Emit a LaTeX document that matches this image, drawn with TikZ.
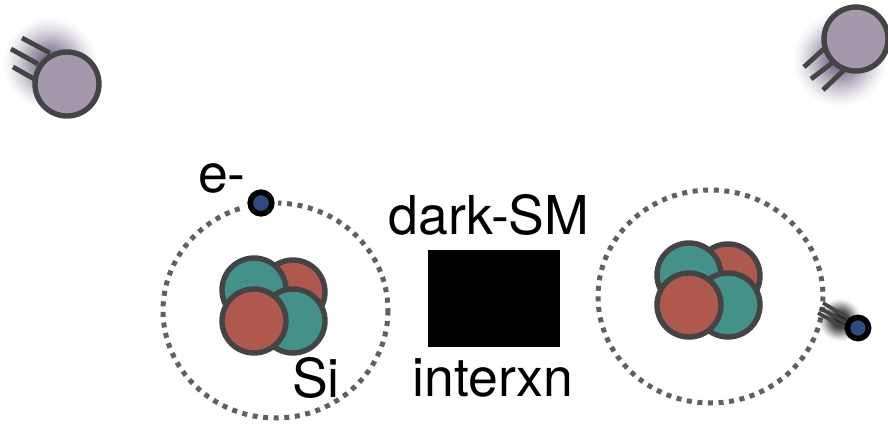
\documentclass[tikz,border=0pt]{standalone}
\usepackage{fontspec}
\setmainfont{TeX Gyre Heros}
\definecolor{ink}{HTML}{444444}
\definecolor{dotgrey}{HTML}{625F5C}
\definecolor{teal}{HTML}{44918A}
\definecolor{brick}{HTML}{AE584E}
\definecolor{lilac}{HTML}{A597AC}
\definecolor{halo}{HTML}{4A3A60}
\definecolor{eblue}{HTML}{2F4A7C}
\tikzset{
  ball/.style={draw=ink,line width=5.4pt},
  orbit/.style={draw=dotgrey,line width=5pt,dash pattern=on 5pt off 5.6pt},
  trail/.style={draw=ink,line width=4.8pt},
  electron/.style={draw=black,line width=5.6pt,fill=eblue},
  label/.style={inner sep=0pt,font=\fontsize{53.6}{54}\selectfont,text=black}
}
% soft halo: many faint stacked discs whose opacity tails off quadratically
\newcommand{\softhalo}[4]{%
  \foreach \k in {1,...,90}{
    \fill[#4,opacity=#3] (#1) circle ({#2*(1-sqrt(\k/90))+0.01});
  }%
}
\begin{document}
\begin{tikzpicture}[x=1pt,y=-1pt]
\useasboundingbox (0,0) rectangle (888,425);

% incoming dark-matter particle
\softhalo{50,64}{52}{0.02}{halo}
\draw[trail] (22,38) -- (50,53);
\draw[trail] (11,49) -- (38,64);
\draw[trail] (13,67) -- (36,80);
\draw[ball,fill=lilac] (67,84) circle (32);

% outgoing dark-matter particle
\softhalo{840,60}{52}{0.02}{halo}
\draw[trail] (804,67) -- (826,47);
\draw[trail] (811,79) -- (836,60);
\draw[trail] (823,90) -- (844,70);
\draw[ball,fill=lilac] (856,39) circle (32);

% left atom
\draw[orbit] (275.5,310.5) ellipse (112.5 and 107.5);
\draw[ball,fill=brick] (293,292) circle (32);
\draw[ball,fill=teal] (254,290) circle (32);
\draw[ball,fill=teal] (293,321) circle (32);
\draw[ball,fill=brick] (254,321) circle (32);
\fill[white] (261,203) circle (17);
\draw[electron] (261,203) circle (10.8);

% right atom
\draw[orbit] (710.5,296.5) ellipse (112.5 and 106.5);
\draw[ball,fill=brick] (728,276) circle (32);
\draw[ball,fill=teal] (689,275) circle (32);
\draw[ball,fill=teal] (728,305) circle (32);
\draw[ball,fill=brick] (689,305) circle (32);
\softhalo{840,320}{24}{0.03}{black}
\draw[ink,line width=3.6pt] (823,303) -- (850,319);
\draw[ink,line width=3.6pt] (820,308) -- (848,324);
\draw[ink,line width=3.6pt] (818,313) -- (847,329);
\draw[electron] (858,328) circle (10.6);

% interaction blob
\fill[black] (428,250) rectangle (560,347);

% labels
\node[label] (lblE) at (222,178) {e-};
\node[label] (lblSi) at (316,378) {Si};
\node[label] (lblDark) at (489,215) {dark-SM};
\node[label] (lblInter) at (493,378) {interxn};
\end{tikzpicture}
\end{document}
